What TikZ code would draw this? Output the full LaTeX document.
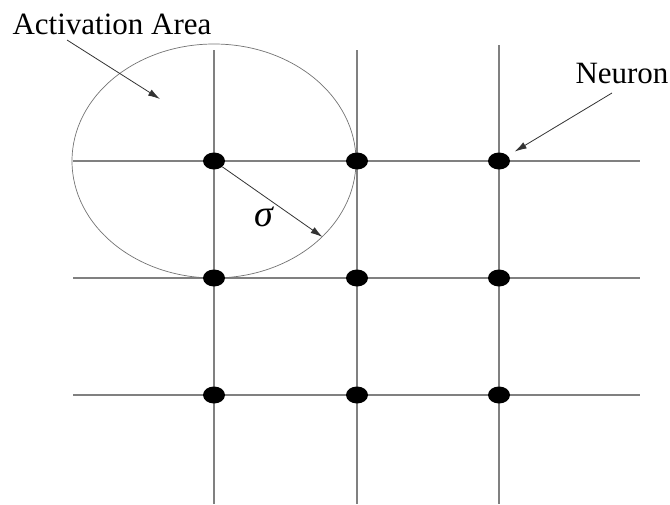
\documentclass[tikz,border=0pt]{standalone}
\usepackage{fontspec}
\setmainfont{Liberation Serif}
\usetikzlibrary{arrows.meta,shapes.geometric}

\begin{document}
\begin{tikzpicture}[x=1pt,y=-1pt,
    grid/.style={draw=black!50,line width=1.2pt},
    neuron/.style={ellipse,fill=black,inner sep=0pt,minimum width=22pt,minimum height=17pt},
    lbl/.style={font=\fontsize{31}{34}\selectfont},
    pointer/.style={-{Latex[length=12pt,width=7pt]},draw=black!80,line width=0.8pt}]
  \useasboundingbox (0,0) rectangle (670,504);
  % grid lines
  \foreach \x/\top in {214/50,357/50,499/45}
    \draw[grid] (\x,\top) -- (\x,504);
  \foreach \y in {161,278,395}
    \draw[grid] (73,\y) -- (640,\y);
  % activation area round the first neuron
  \node[ellipse,draw=black!55,line width=0.7pt,minimum width=284pt,minimum height=234pt,inner sep=0pt] (area) at (214,161) {};
  % neurons
  \foreach \x [count=\i] in {214,357,499}
    \foreach \y [count=\j] in {161,278,395}
      \node[neuron] (n\j\i) at (\x,\y) {};
  % labels
  \node[lbl] (areatext) at (112,24) {Activation Area};
  \coordinate (areatail) at (67,40);
  \coordinate (areahead) at (160,99);
  \draw[pointer] (areatail) -- (areahead);
  \node[lbl] (neurontext) at (622,73) {Neuron};
  \coordinate (neurontail) at (612,93);
  \draw[pointer,shorten >=8pt] (neurontail) -- (n13);
  \node[font=\fontsize{38}{38}\selectfont\itshape] (sigma) at (264,217) {σ};
  \draw[pointer] (n11) -- (area.-35);
\end{tikzpicture}
\end{document}
